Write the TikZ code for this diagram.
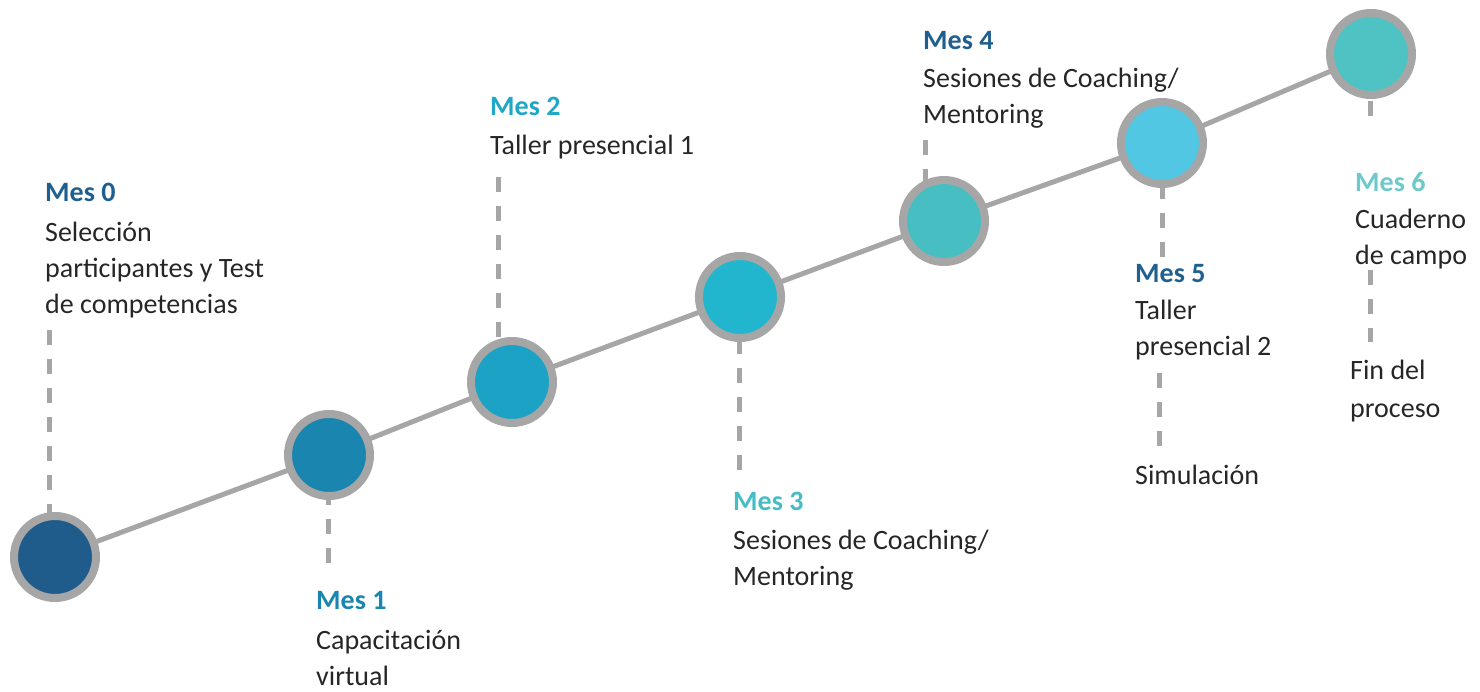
\documentclass[tikz,border=0pt]{standalone}
\usepackage{fontspec}
\setmainfont{Carlito}
\usetikzlibrary{positioning}

\definecolor{anillo}{HTML}{A6A6A6}
\definecolor{texto}{HTML}{262626}
\definecolor{c0}{HTML}{1F5C8B}
\definecolor{c1}{HTML}{1A85AF}
\definecolor{c2}{HTML}{1BA2C5}
\definecolor{c3}{HTML}{21B5CE}
\definecolor{c4}{HTML}{46BEC2}
\definecolor{c5}{HTML}{52C7E3}
\definecolor{c6}{HTML}{4FC3C3}
\definecolor{h0}{HTML}{1F5F8F}
\definecolor{h1}{HTML}{1A86B0}
\definecolor{h2}{HTML}{1FA7C8}
\definecolor{h3}{HTML}{45BDC4}
\definecolor{h4}{HTML}{1F5F8F}
\definecolor{h5}{HTML}{20608F}
\definecolor{h6}{HTML}{6DCACB}

\newcommand{\mes}[2]{\textcolor{#1}{\textbf{#2}}}

\begin{document}
\begin{tikzpicture}[x=1pt,y=-1pt,
    mesbola/.style={circle,fill=#1,draw=anillo,line width=8pt,minimum size=82pt,inner sep=0pt},
    linea/.style={draw=anillo,line width=5pt},
    guia/.style={draw=anillo,line width=5pt,dash pattern=on 15pt off 14pt},
    hito/.style={anchor=north west,inner sep=0pt,align=left,text=texto,font=\fontsize{28}{36}\selectfont}]
    \useasboundingbox (0,0) rectangle (1480,691);
    \foreach \n/\x/\y in {0/55/557,1/329/455,2/512/382,3/740/297,4/944/221,5/1162/143,6/1371/54}
        \coordinate (p\n) at (\x,\y);
    % etiquetas
    \node[hito] (t0) at (45,183) {\mes{h0}{Mes 0}\\[4pt]Selección\\participantes y Test\\de competencias};
    \node[hito] (t1) at (316,591) {\mes{h1}{Mes 1}\\[4pt]Capacitación\\virtual};
    \node[hito] (t2) at (490,97) {\mes{h2}{Mes 2}\\[3pt]Taller presencial 1};
    \node[hito] (t3) at (733,492) {\mes{h3}{Mes 3}\\[3pt]Sesiones de Coaching/\\Mentoring};
    \node[hito] (t4) at (923,31) {\mes{h4}{Mes 4}\\[2pt]Sesiones de Coaching/\\Mentoring};
    \node[hito] (t5) at (1135,264) {\mes{h5}{Mes 5}\\[1pt]Taller\\presencial 2};
    \node[hito,anchor=base west] (s5) at (1135,484) {Simulación};
    \node[hito] (t6) at (1355,172) {\mes{h6}{Mes 6}\\[1pt]Cuaderno\\de campo};
    \node[hito] (f6) at (1350,360) {Fin del\\[2pt]proceso};
    % guias
    \coordinate (g0) at (49,330);
    \coordinate (g1) at (328,563);
    \coordinate (g2) at (498,177);
    \coordinate (g3) at (739,470);
    \coordinate (g4) at (925,140);
    \coordinate (g5) at (1162,257);
    \coordinate (g5a) at (1159,373);
    \coordinate (g5b) at (1159,452);
    \coordinate (g6) at (1370,116);
    \coordinate (g6a) at (1370,270);
    \coordinate (g6b) at (1370,342);
    \draw[guia] (g0) -- (g0 |- p0);
    \draw[guia] (g1) -- (g1 |- p1);
    \draw[guia] (g2) -- (g2 |- p2);
    \draw[guia] (g3) -- (g3 |- p3);
    \draw[guia] (g4) -- (g4 |- p4);
    \draw[guia] (g5) -- (g5 |- p5);
    \draw[guia] (g5a) -- (g5b);
    \draw[guia] (g6) -- (g6 |- p6);
    \draw[guia] (g6a) -- (g6b);
    \draw[linea] (p0) -- (p1) -- (p2) -- (p3) -- (p4) -- (p5) -- (p6);
    \foreach \n in {0,...,6}
        \node[mesbola=c\n] (m\n) at (p\n) {};
\end{tikzpicture}
\end{document}
